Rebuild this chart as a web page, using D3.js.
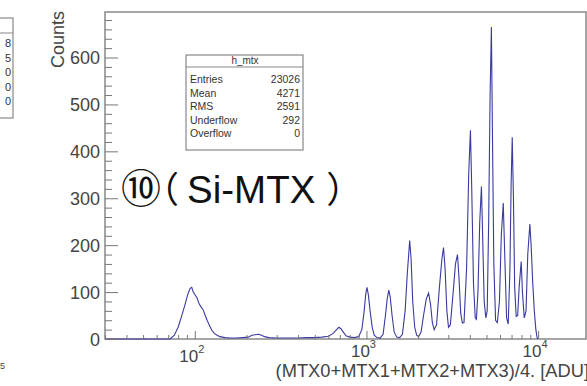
<!DOCTYPE html>
<html>
<head>
<meta charset="utf-8">
<script src="https://cdn.jsdelivr.net/npm/d3@7"></script>
<style>
  body { margin: 0; background: #fff; }
  svg { display: block; }
  text { font-family: "Liberation Sans", Arial, sans-serif; }
</style>
</head>
<body>
<div id="chart"></div>
<script>
// histogram samples: ADU value and counts
const adu = [30, 72, 76, 80, 84, 88, 91, 94, 96, 98, 100, 103, 106, 109, 112, 115, 118, 122, 126, 130, 135, 140, 150, 160, 175, 190, 205, 215, 225, 235, 245, 255, 270, 300, 350, 400, 450, 500, 550, 600, 640, 670, 690, 710, 735, 760, 800, 850, 900, 940, 970, 990, 1007, 1025, 1050, 1080, 1110, 1150, 1200, 1250, 1290, 1320, 1349, 1375, 1410, 1450, 1500, 1560, 1620, 1680, 1730, 1786, 1820, 1860, 1910, 1960, 2010, 2080, 2150, 2230, 2300, 2360, 2420, 2480, 2560, 2660, 2750, 2811, 2870, 2940, 3005, 3080, 3200, 3300, 3390, 3460, 3540, 3620, 3700, 3830, 3940, 4033, 4100, 4200, 4300, 4371, 4460, 4570, 4674, 4750, 4850, 4960, 5050, 5150, 5250, 5342, 5420, 5520, 5650, 5786, 5950, 6100, 6264, 6400, 6550, 6695, 6850, 6960, 7064, 7180, 7300, 7450, 7600, 7750, 7965, 8100, 8300, 8500, 8700, 8950, 9100, 9300, 9500, 9700, 9850, 9950];
const counts = [0, 0, 8, 25, 50, 75, 95, 108, 110, 100, 95, 88, 75, 68, 62, 50, 40, 28, 18, 12, 8, 5, 3, 2, 2, 3, 4, 8, 9, 10, 8, 5, 3, 2, 2, 2, 3, 3, 4, 6, 12, 20, 25, 22, 14, 7, 4, 3, 5, 20, 60, 95, 110, 95, 60, 25, 8, 3, 2, 10, 50, 85, 104, 90, 50, 15, 4, 3, 10, 60, 140, 210, 170, 80, 25, 8, 5, 15, 50, 85, 98, 75, 35, 20, 30, 110, 170, 195, 150, 60, 25, 30, 100, 160, 180, 130, 55, 34, 35, 150, 350, 445, 330, 120, 45, 42, 100, 250, 325, 220, 80, 45, 60, 250, 520, 665, 430, 160, 40, 35, 80, 220, 290, 170, 45, 32, 150, 330, 430, 300, 110, 48, 50, 110, 165, 100, 45, 60, 180, 245, 200, 120, 60, 20, 4, 0];

const yTicks = [0, 100, 200, 300, 400, 500, 600];
const xDecades = [2, 3, 4];
const statNames = ["Entries", "Mean", "RMS", "Underflow", "Overflow"];
const statValues = ["23026", "4271", "2591", "292", "0"];
const leftBoxValues = ["8", "5", "0", "0", "0"];

const W = 587, H = 386;
const pad = { left: 105, right: 586, top: 12, bottom: 339 };

const svg = d3.select("#chart").append("svg")
  .attr("width", W).attr("height", H);

const x = d3.scaleLog().domain([30, 19000]).range([pad.left, pad.right]);
const y = d3.scaleLinear().domain([0, 697]).range([pad.bottom, pad.top]);

// neighbouring pad remains (cut off stats box at the left edge)
const lb = svg.append("g");
lb.append("rect").attr("x", -60).attr("y", 18).attr("width", 73).attr("height", 100)
  .attr("fill", "none").attr("stroke", "#888").attr("stroke-width", 1.2);
lb.append("line").attr("x1", -60).attr("x2", 13).attr("y1", 33).attr("y2", 33)
  .attr("stroke", "#888").attr("stroke-width", 1.2);
lb.selectAll("text").data(leftBoxValues).enter().append("text")
  .attr("x", 11).attr("y", (d, i) => 47 + i * 14.5)
  .attr("text-anchor", "end").attr("font-size", 11).attr("fill", "#333")
  .text(d => d);
svg.append("text").attr("x", 0).attr("y", 369).attr("font-size", 9).attr("fill", "#444").text("5");

// frame
svg.append("rect").attr("x", pad.left).attr("y", pad.top)
  .attr("width", pad.right - pad.left).attr("height", pad.bottom - pad.top)
  .attr("fill", "none").attr("stroke", "#888").attr("stroke-width", 1.5);

// histogram
svg.append("path")
  .datum(adu.map((a, i) => [a, counts[i]]))
  .attr("fill", "none")
  .attr("stroke", "#3a3aa0")
  .attr("stroke-width", 1.1)
  .attr("d", d3.line().x(d => x(d[0])).y(d => y(d[1])));

// y axis
const yAxis = svg.append("g").attr("transform", `translate(${pad.left},0)`)
  .call(d3.axisRight(y).tickValues(d3.range(0, 697, 20)).tickSize(7).tickFormat(""));
yAxis.select(".domain").remove();
yAxis.selectAll(".tick line").attr("stroke", "#777")
  .attr("x2", d => d % 100 === 0 ? 13 : 7);
svg.selectAll(".ylab").data(yTicks).enter().append("text")
  .attr("x", 100).attr("y", d => y(d) + 6.5)
  .attr("text-anchor", "end").attr("font-size", 18).attr("fill", "#444")
  .text(d => d);
svg.append("text")
  .attr("transform", `translate(64,11) rotate(-90)`)
  .attr("text-anchor", "end").attr("font-size", 18).attr("fill", "#444")
  .text("Counts");

// x axis (log ticks)
const minor = [];
[10, 100, 1000, 10000].forEach(b => { for (let k = 1; k < 10; k++) { const v = b * k; if (v >= 30 && v <= 19000) minor.push(v); } });
const xAxis = svg.append("g").attr("transform", `translate(0,${pad.bottom})`)
  .call(d3.axisTop(x).tickValues(minor).tickSize(4).tickFormat(""));
xAxis.select(".domain").remove();
xAxis.selectAll(".tick line").attr("stroke", "#777")
  .attr("y2", d => Math.log10(d) % 1 === 0 ? -8 : -4);
const xl = svg.selectAll(".xlab").data(xDecades).enter().append("text")
  .attr("x", d => x(Math.pow(10, d)) - 3)
  .attr("y", d => d === 2 ? 362 : 357)
  .attr("text-anchor", "middle").attr("font-size", 17).attr("fill", "#444");
xl.append("tspan").text("10");
xl.append("tspan").attr("dy", -9).attr("font-size", 11).text(d => d);
svg.append("text").attr("x", 589).attr("y", 377)
  .attr("text-anchor", "end").attr("font-size", 18.3).attr("fill", "#444")
  .text("(MTX0+MTX1+MTX2+MTX3)/4. [ADU]");

// stats box
const sb = svg.append("g");
sb.append("rect").attr("x", 186).attr("y", 55).attr("width", 117).attr("height", 95)
  .attr("fill", "#fff").attr("stroke", "#888").attr("stroke-width", 1.2);
sb.append("line").attr("x1", 186).attr("x2", 303).attr("y1", 67).attr("y2", 67)
  .attr("stroke", "#888").attr("stroke-width", 1.2);
sb.append("text").attr("x", 245).attr("y", 64).attr("text-anchor", "middle")
  .attr("font-size", 10).attr("fill", "#333").text("h_mtx");
sb.selectAll(".sn").data(statNames).enter().append("text")
  .attr("x", 190).attr("y", (d, i) => 83 + i * 13.5)
  .attr("font-size", 10.5).attr("fill", "#333").text(d => d);
sb.selectAll(".sv").data(statValues).enter().append("text")
  .attr("x", 300).attr("y", (d, i) => 83 + i * 13.5)
  .attr("text-anchor", "end").attr("font-size", 10.5).attr("fill", "#333").text(d => d);

// annotation
const ann = svg.append("text").attr("x", 121).attr("y", 203).attr("fill", "#111");
ann.append("tspan").attr("font-size", 40)
  .style("font-family", '"Noto Sans CJK JP"').text("⑩");
ann.append("tspan").attr("dx", -18).attr("font-size", 36)
  .style("font-family", '"Noto Sans CJK JP"').text("（");
ann.append("tspan").attr("dx", 8).attr("font-size", 38.5).text("Si-MTX");
ann.append("tspan").attr("dx", 11).attr("font-size", 36)
  .style("font-family", '"Noto Sans CJK JP"').text("）");
</script>
</body>
</html>
